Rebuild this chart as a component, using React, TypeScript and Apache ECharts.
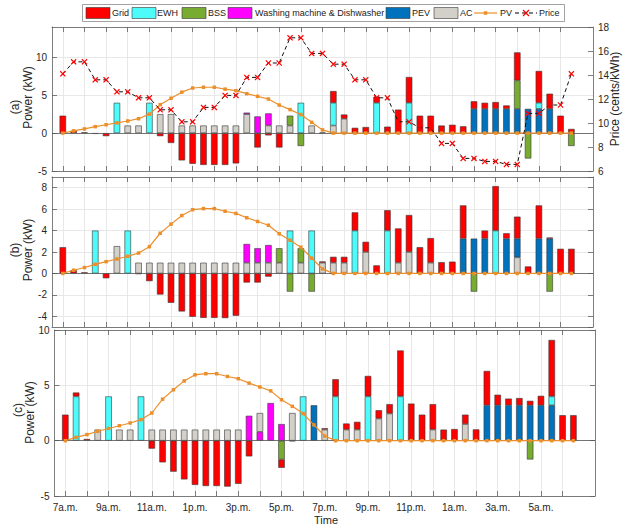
import React, { useEffect, useRef } from "react";
import * as echarts from "echarts";

const FONT = "'Liberation Sans', Arial, Helvetica, sans-serif";

// x-axis tick labels (every 2 hours, starting 7 a.m.)
const timeLabels = ["7a.m.", "9a.m.", "11a.m.", "1p.m.", "3p.m.", "5p.m.", "7p.m.", "9p.m.", "11p.m.", "1a.m.", "3a.m.", "5a.m."];

// 48 half-hour slots from 7:00 a.m.
const pv = [
  0, 0.3, 0.55, 0.85, 1.1, 1.35, 1.6, 1.9,
  2.5, 3.75, 4.6, 5.4, 5.95, 6.05, 6.05, 5.8,
  5.6, 5.2, 4.85, 4.5, 3.7, 3.1, 2.45, 1.42,
  0.42, 0, 0, 0, 0, 0, 0, 0,
  0, 0, 0, 0, 0, 0, 0, 0,
  0, 0, 0, 0, 0, 0, 0, 0,
];

const price = [
  14.1, 15.1, 15.1, 13.6, 13.6, 12.6, 12.6, 12.1,
  12.1, 11.1, 11.1, 10.1, 10.1, 11.3, 11.3, 12.3,
  12.3, 13.8, 13.8, 15.0, 15.0, 17.1, 17.1, 15.8,
  15.8, 14.9, 14.9, 13.6, 13.6, 12.1, 12.1, 10.1,
  10.1, 9.6, 9.6, 8.3, 8.3, 7.05, 7.05, 6.8,
  6.8, 6.55, 6.55, 10.8, 10.8, 11.5, 11.5, 14.1,
];

// ---- Panel (a) ----
const gridA = [
  2.3, 0.3, 0.1, -0.1, -0.4, 0, 0, 0,
  0, -0.4, -1.3, -3.6, -4.05, -4.2, -4.2, -4.2,
  -4.0, 0, -1.9, -0.3, -1.9, 0, 0, 0,
  0.08, 1.55, 0.55, 0.7, 0.8, 0.8, 0.85, 3.1,
  3.4, 2.3, 2.3, 1.0, 1.1, 0.9, 1.0, 0.8,
  0.9, 0.45, 3.7, 0, 4.2, 2.0, 2.3, 0.55,
];
const ewhA = [
  0, 0, 0, 0, 0, 4, 0, 0,
  4, 0, 0, 0, 0, 0, 0, 0,
  0, 0, 0, 0, 0, 0, 4, 0,
  0, 3, 0, 0, 0, 4, 0, 0,
  4, 0, 0, 0, 0, 0, 0, 0,
  0, 0, 0, 0, 0.8, 0, 0, 0,
];
const bssA = [
  0, 0, 0, 0, 0, 0, 0, 0,
  0, 0, 0, 0, 0, 0, 0, 0,
  0, 0, 0, 0, 0, 1.3, -1.7, 0,
  0, 0, 0, 0, 0, 0, 0, 0,
  0, 0, 0, 0, 0, 0, 0, 0,
  0, 0, 3.75, -3.35, 0, 0, 0, -1.7,
];
const wmA = [
  0, 0, 0, 0, 0, 0, 0, 0,
  0, 0, 0, 0, 0, 0, 0, 0,
  0, 0.2, 2.2, 1.6, 0, 0, 0, 0,
  0, 0, 0, 0, 0, 0, 0, 0,
  0, 0, 0, 0, 0, 0, 0, 0,
  0, 0, 0, 0, 0, 0, 0, 0,
];
const pevA = [
  0, 0, 0, 0, 0, 0, 0, 0,
  0, 0, 0, 0, 0, 0, 0, 0,
  0, 0, 0, 0, 0, 0, 0, 0,
  0, 0, 0, 0, 0, 0, 0, 0,
  0, 0, 0, 0, 0, 0, 3.2, 3.2,
  3.2, 3.2, 3.2, 3.2, 3.2, 3.2, 0, 0,
];
const acA = [
  0, 0, 0, 0, 0, 0, 1, 1,
  0, 2.5, 2.5, 1, 1, 1, 1, 1,
  1, 2.5, 0, 1, 1, 1, 0, 1,
  0, 1, 1.9, 0, 0, 0, 0, 0,
  0, 0, 0, 0, 0, 0, 0, 0,
  0, 0, 0, 0, 0, 0, 0, 0,
];

// ---- Panel (b) ----
const gridB = [
  2.45, 0.3, 0.1, 0, -0.45, 0, 0, -0.05,
  -0.72, -1.97, -2.74, -3.55, -4.05, -4.15, -4.15, -4.17,
  -3.95, -0.85, -0.85, -0.3, 0, 0, 0, 0,
  0.12, 0.55, 0.55, 1.7, 0.95, 0.75, 1.9, 3.2,
  3.45, 2.45, 2.3, 1.05, 1.1, 3.1, 0, 0.75,
  4.15, 0.5, 2.05, 0.65, 3.1, 0.1, 2.3, 2.3,
];
const ewhB = [
  0, 0, 0, 4, 0, 0, 4, 0,
  0, 0, 0, 0, 0, 0, 0, 0,
  0, 0, 0, 0, 0, 4, 0, 4,
  0, 0, 0, 4, 0, 0, 4, 0,
  0, 0, 0, 0, 0, 0, 0, 0,
  4, 0, 0, 0, 0, 0, 0, 0,
];
const bssB = [
  0, 0, 0, 0, 0, 0, 0, 0,
  0, 0, 0, 0, 0, 0, 0, 0,
  0, 0, 0, 0, 1.35, -1.7, 1.35, -1.7,
  0, 0, 0, 0, 0, 0, 0, 0,
  0, 0, 0, 0, 0, 0, -1.7, 0,
  0, 0, 0, 0, 0, -1.7, 0, 0,
];
const wmB = [
  0, 0, 0, 0, 0, 0, 0, 0,
  0, 0, 0, 0, 0, 0, 0, 0,
  0, 1.75, 1.35, 1.65, 0, 0, 0, 0,
  0, 0, 0, 0, 0, 0, 0, 0,
  0, 0, 0, 0, 0, 0, 0, 0,
  0, 0, 0, 0, 0, 0, 0, 0,
];
const pevB = [
  0, 0, 0, 0, 0, 0, 0, 0,
  0, 0, 0, 0, 0, 0, 0, 0,
  0, 0, 0, 0, 0, 0, 0, 0,
  0, 0, 0, 0, 0, 0, 0, 0,
  0, 0, 0, 0, 0, 3.25, 3.25, 3.25,
  0, 3.25, 1.75, 0, 3.25, 3.25, 0, 0,
];
const acB = [
  0, 0, 0, 0, 0, 2.55, 0, 1,
  1, 1, 1, 1, 1, 1, 1, 1,
  1, 1, 1, 1, 1, 0, 1, 0,
  1, 1, 1, 0, 2, 0, 0, 1,
  2, 0, 1, 0, 0, 0, 0, 0,
  0, 0, 1.5, 0, 0, 0, 0, 0,
];

// ---- Panel (c) ----
const gridC = [
  2.35, 0.35, 0.15, 0, 0, 0, 0, 0,
  -0.72, -1.96, -2.8, -3.5, -4.0, -4.1, -4.1, -4.15,
  -3.9, -1.42, 0, 0, -0.75, -0.05, 0, 0,
  0.12, 1.55, 0.55, 0.7, 1.85, 0.75, 0.85, 4.15,
  3.35, 2.35, 2.3, 1.0, 1.05, 0.85, 1.02, 3.1,
  0.95, 0.6, 0.65, 0.4, 0.85, 5.1, 2.3, 2.3,
];
const ewhC = [
  0, 4, 0, 0, 4, 0, 0, 4,
  0, 0, 0, 0, 0, 0, 0, 0,
  0, 0, 0, 0, 0, 0, 4, 0,
  0, 4, 0, 0, 4, 0, 0, 4,
  0, 0, 0, 0, 0, 0, 0, 0,
  0, 0, 0, 0, 0, 0.8, 0, 0,
];
const bssC = [
  0, 0, 0, 0, 0, 0, 0, 0,
  0, 0, 0, 0, 0, 0, 0, 0,
  0, 0, 0, 0, -1.7, 0, 0, 0,
  0, 0, 0, 0, 0, 0, 0, 0,
  0, 0, 0, 0, 0, 0, 0, 0,
  0, 0, 0, -1.7, 0, 0, 0, 0,
];
const wmC = [
  0, 0, 0, 0, 0, 0, 0, 0,
  0, 0, 0, 0, 0, 0, 0, 0,
  0, 2.25, 0.8, 3.4, 1.5, 0, 0, 0,
  0, 0, 0, 0, 0, 0, 0, 0,
  0, 0, 0, 0, 0, 0, 0, 0,
  0, 0, 0, 0, 0, 0, 0, 0,
];
const pevC = [
  0, 0, 0, 0, 0, 0, 0, 0,
  0, 0, 0, 0, 0, 0, 0, 0,
  0, 0, 0, 0, 0, 0, 0, 3.2,
  0, 0, 0, 0, 0, 0, 0, 0,
  0, 0, 0, 0, 0, 0, 0, 3.2,
  3.2, 3.2, 3.2, 3.2, 3.2, 3.2, 0, 0,
];
const acC = [
  0, 0, 0, 1, 0, 1, 1, 0,
  1, 1, 1, 1, 1, 1, 1, 1,
  1, 0, 1.7, 0, 0, 2.5, 0, 0,
  1, 0, 1, 1, 0, 2, 2.45, 0,
  0, 0, 1, 0, 0, 1.5, 0, 0,
  0, 0, 0, 0, 0, 0, 0, 0,
];

const COLORS: Record<string, string> = {
  Grid: "#ff0000",
  EWH: "#4dfbfb",
  BSS: "#77ac30",
  "Washing machine & Dishwasher": "#ff00ff",
  PEV: "#0072bd",
  AC: "#d3cfc9",
};
const PV_COLOR = "#ec8f2a";
const AXIS_COLOR = "#5e5e5e";
const LABEL_COLOR = "#262626";
const GRID_COLOR = "#e2e2e2";
const EDGE = "#383838";
const X_SYMBOL =
  "path://M0,1.4 L1.4,0 L5,3.6 L8.6,0 L10,1.4 L6.4,5 L10,8.6 L8.6,10 L5,6.4 L1.4,10 L0,8.6 L3.6,5 Z";

// category axis: index j <-> slot j-1 (range -1 .. 49)
const cats = Array.from({ length: 51 }, (_, j) => String(j - 1));
const padBar = (arr: number[]) => [null, ...arr.map((v) => (v === 0 ? null : v)), null, null];
const padLine = (arr: number[]) => [null, ...arr, null, null];
const isTick = (j: number) => j >= 1 && j <= 47 && (j - 1) % 2 === 0;
const isLabel = (j: number) => j >= 1 && (j - 1) % 4 === 0 && (j - 1) / 4 < timeLabels.length;

const GRIDS = [
  { left: 52, top: 27, width: 541, height: 144 },
  { left: 52, top: 177, width: 541, height: 150 },
  { left: 54.5, top: 330, width: 540.5, height: 166 },
];

function xAxis(gi: number, pos: "top" | "bottom", showLabels: boolean) {
  return {
    type: "category",
    gridIndex: gi,
    data: cats,
    boundaryGap: false,
    position: pos,
    axisLine: { show: true, onZero: false, lineStyle: { color: AXIS_COLOR, width: 0.8 } },
    axisTick: {
      show: true,
      inside: true,
      length: 5,
      interval: (j: number) => isTick(j),
      lineStyle: { color: AXIS_COLOR, width: 0.8 },
    },
    axisLabel: {
      show: showLabels,
      interval: (j: number) => isLabel(j),
      formatter: (v: string) => {
        const s = Number(v);
        return s >= 0 && s % 4 === 0 && timeLabels[s / 4] ? timeLabels[s / 4] : "";
      },
      margin: 6,
      fontSize: 10,
      color: LABEL_COLOR,
      fontFamily: FONT,
    },
    splitLine: {
      show: pos === "bottom",
      interval: (j: number) => isTick(j),
      lineStyle: { color: GRID_COLOR, width: 0.8 },
    },
  };
}

function yAxis(gi: number, pos: "left" | "right", min: number, max: number, extra: any, labels: boolean, split: boolean) {
  return {
    type: "value",
    gridIndex: gi,
    position: pos,
    min,
    max,
    ...extra,
    axisLine: { show: true, onZero: false, lineStyle: { color: AXIS_COLOR, width: 0.8 } },
    axisTick: { show: true, inside: true, length: 5, lineStyle: { color: AXIS_COLOR, width: 0.8 } },
    axisLabel: {
      show: labels,
      margin: 5,
      fontSize: 10,
      color: LABEL_COLOR,
      fontFamily: FONT,
      ...(extra.axisLabel || {}),
    },
    splitLine: { show: split, lineStyle: { color: GRID_COLOR, width: 0.8 } },
  };
}

function panelSeries(p: number, order: string[], data: Record<string, number[]>) {
  const out: any[] = [];
  order.forEach((name, k) => {
    const s: any = {
      type: "bar",
      name,
      xAxisIndex: 2 * p,
      yAxisIndex: 2 * p,
      stack: "p" + p,
      barWidth: 6.5,
      data: padBar(data[name]),
      itemStyle: { color: COLORS[name], borderColor: EDGE, borderWidth: 0.6 },
      emphasis: { disabled: true },
      silent: true,
      z: 2,
    };
    if (k === 0) {
      s.markLine = {
        silent: true,
        symbol: ["none", "none"],
        label: { show: false },
        lineStyle: { color: "#555", width: 0.8, type: "solid" },
        data: [{ yAxis: 0 }],
        animation: false,
      };
    }
    out.push(s);
  });
  out.push({
    type: "line",
    name: "PV",
    xAxisIndex: 2 * p,
    yAxisIndex: 2 * p,
    data: padLine(pv),
    symbol: "rect",
    symbolSize: 3.5,
    showAllSymbol: true,
    lineStyle: { color: PV_COLOR, width: 1.2 },
    itemStyle: { color: PV_COLOR },
    emphasis: { disabled: true },
    silent: true,
    z: 5,
  });
  return out;
}

const LEG_FONT = 9;

function legendGraphics() {
  const els: any[] = [];
  const midY = 13;
  els.push({
    type: "rect",
    shape: { x: 82.5, y: 4.5, width: 482, height: 17 },
    style: { fill: "#fff", stroke: "#8a8a8a", lineWidth: 0.8 },
    z: 10,
  });
  const items: [string, number, number][] = [
    ["Grid", 86, 112],
    ["EWH", 132, 157],
    ["BSS", 182, 208],
    ["Washing machine & Dishwasher", 228, 255],
    ["PEV", 386, 412],
    ["AC", 434, 460],
  ];
  const textStyle = (text: string) => ({
    text,
    fontSize: LEG_FONT,
    fontFamily: FONT,
    fill: "#222",
    textAlign: "left",
    textVerticalAlign: "middle",
    align: "left",
    verticalAlign: "middle",
  });
  items.forEach(([name, sx, tx]) => {
    els.push({
      type: "rect",
      shape: { x: sx, y: midY - 5.5, width: 24, height: 11 },
      style: { fill: COLORS[name], stroke: EDGE, lineWidth: 0.6 },
      z: 11,
    });
    els.push({ type: "text", x: tx, y: midY, style: textStyle(name), z: 11 });
  });
  // PV
  els.push({ type: "line", shape: { x1: 474, y1: midY, x2: 497, y2: midY }, style: { stroke: PV_COLOR, lineWidth: 1.2 }, z: 11 });
  els.push({ type: "rect", shape: { x: 483.75, y: midY - 1.75, width: 3.5, height: 3.5 }, style: { fill: PV_COLOR }, z: 12 });
  els.push({ type: "text", x: 500, y: midY, style: textStyle("PV"), z: 11 });
  // Price
  els.push({ type: "line", shape: { x1: 515, y1: midY, x2: 537, y2: midY }, style: { stroke: "#000", lineWidth: 1, lineDash: [4, 3] }, z: 11 });
  els.push({ type: "line", shape: { x1: 523, y1: midY - 3, x2: 529, y2: midY + 3 }, style: { stroke: "#ff0000", lineWidth: 1.2 }, z: 12 });
  els.push({ type: "line", shape: { x1: 523, y1: midY + 3, x2: 529, y2: midY - 3 }, style: { stroke: "#ff0000", lineWidth: 1.2 }, z: 12 });
  els.push({ type: "text", x: 539, y: midY, style: textStyle("Price"), z: 11 });
  return els;
}

function rotText(text: string, x: number, y: number, size: number) {
  return {
    type: "text",
    x,
    y,
    rotation: Math.PI / 2,
    style: {
      text,
      fontSize: size,
      fontFamily: FONT,
      fill: LABEL_COLOR,
      textAlign: "center",
      textVerticalAlign: "middle",
      align: "center",
      verticalAlign: "middle",
    },
    z: 10,
  };
}

export default function App() {
  const ref = useRef<HTMLDivElement>(null);
  useEffect(() => {
    if (!ref.current) return;
    const chart = echarts.init(ref.current, undefined, { renderer: "svg" });
    const orderAB = ["AC", "PEV", "Washing machine & Dishwasher", "BSS", "EWH", "Grid"];
    const orderC = ["Washing machine & Dishwasher", "AC", "PEV", "BSS", "EWH", "Grid"];
    const dataA = { Grid: gridA, EWH: ewhA, BSS: bssA, "Washing machine & Dishwasher": wmA, PEV: pevA, AC: acA };
    const dataB = { Grid: gridB, EWH: ewhB, BSS: bssB, "Washing machine & Dishwasher": wmB, PEV: pevB, AC: acB };
    const dataC = { Grid: gridC, EWH: ewhC, BSS: bssC, "Washing machine & Dishwasher": wmC, PEV: pevC, AC: acC };

    const option: any = {
      animation: false,
      backgroundColor: "#ffffff",
      textStyle: { fontFamily: FONT },
      grid: GRIDS.map((g) => ({ ...g, containLabel: false, outerBoundsMode: "none" })),
      xAxis: [
        xAxis(0, "bottom", false),
        xAxis(0, "top", false),
        xAxis(1, "bottom", false),
        xAxis(1, "top", false),
        xAxis(2, "bottom", true),
        xAxis(2, "top", false),
      ],
      yAxis: [
        yAxis(0, "left", -5, 14, { interval: 5, axisLabel: { showMinLabel: true, showMaxLabel: false } }, true, true),
        yAxis(0, "right", 6, 18, { interval: 2, axisLabel: { showMinLabel: true, showMaxLabel: true } }, true, false),
        yAxis(1, "left", -5, 9, {
          splitNumber: 7,
          axisLabel: { showMinLabel: false, showMaxLabel: false, formatter: (v: number) => (Math.abs(v % 2) < 1e-9 ? String(v) : "") },
        }, true, true),
        yAxis(1, "right", -5, 9, { splitNumber: 7 }, false, false),
        yAxis(2, "left", -5, 10, { interval: 5, axisLabel: { showMinLabel: true, showMaxLabel: true } }, true, true),
        yAxis(2, "right", -5, 10, { interval: 5 }, false, false),
      ],
      series: [
        ...panelSeries(0, orderAB, dataA),
        {
          type: "line",
          name: "Price",
          xAxisIndex: 0,
          yAxisIndex: 1,
          data: padLine(price),
          symbol: X_SYMBOL,
          symbolSize: 6,
          showAllSymbol: true,
          lineStyle: { color: "#111", width: 1, type: [4, 3] },
          itemStyle: { color: "#ff0000" },
          emphasis: { disabled: true },
          silent: true,
          z: 6,
        },
        ...panelSeries(1, orderAB, dataB),
        ...panelSeries(2, orderC, dataC),
      ],
      graphic: {
        elements: [
          ...legendGraphics(),
          rotText("(a)", 15, 107, 12),
          rotText("Power (kW)", 27.5, 97.5, 12),
          rotText("(b)", 15, 250, 12),
          rotText("Power (kW)", 27.5, 250, 12),
          rotText("(c)", 17.5, 410, 12),
          rotText("Power (kW)", 30, 412.5, 12),
          rotText("Price (cents/kWh)", 615, 99, 12),
          {
            type: "text",
            x: 326,
            y: 520,
            style: {
              text: "Time",
              fontSize: 11,
              fontFamily: FONT,
              fill: LABEL_COLOR,
              textAlign: "center",
              textVerticalAlign: "middle",
              align: "center",
              verticalAlign: "middle",
            },
          },
        ],
      },
    };
    chart.setOption(option);
    return () => chart.dispose();
  }, []);
  return <div ref={ref} style={{ position: "fixed", left: 0, top: 0, width: 623, height: 529 }} />;
}
